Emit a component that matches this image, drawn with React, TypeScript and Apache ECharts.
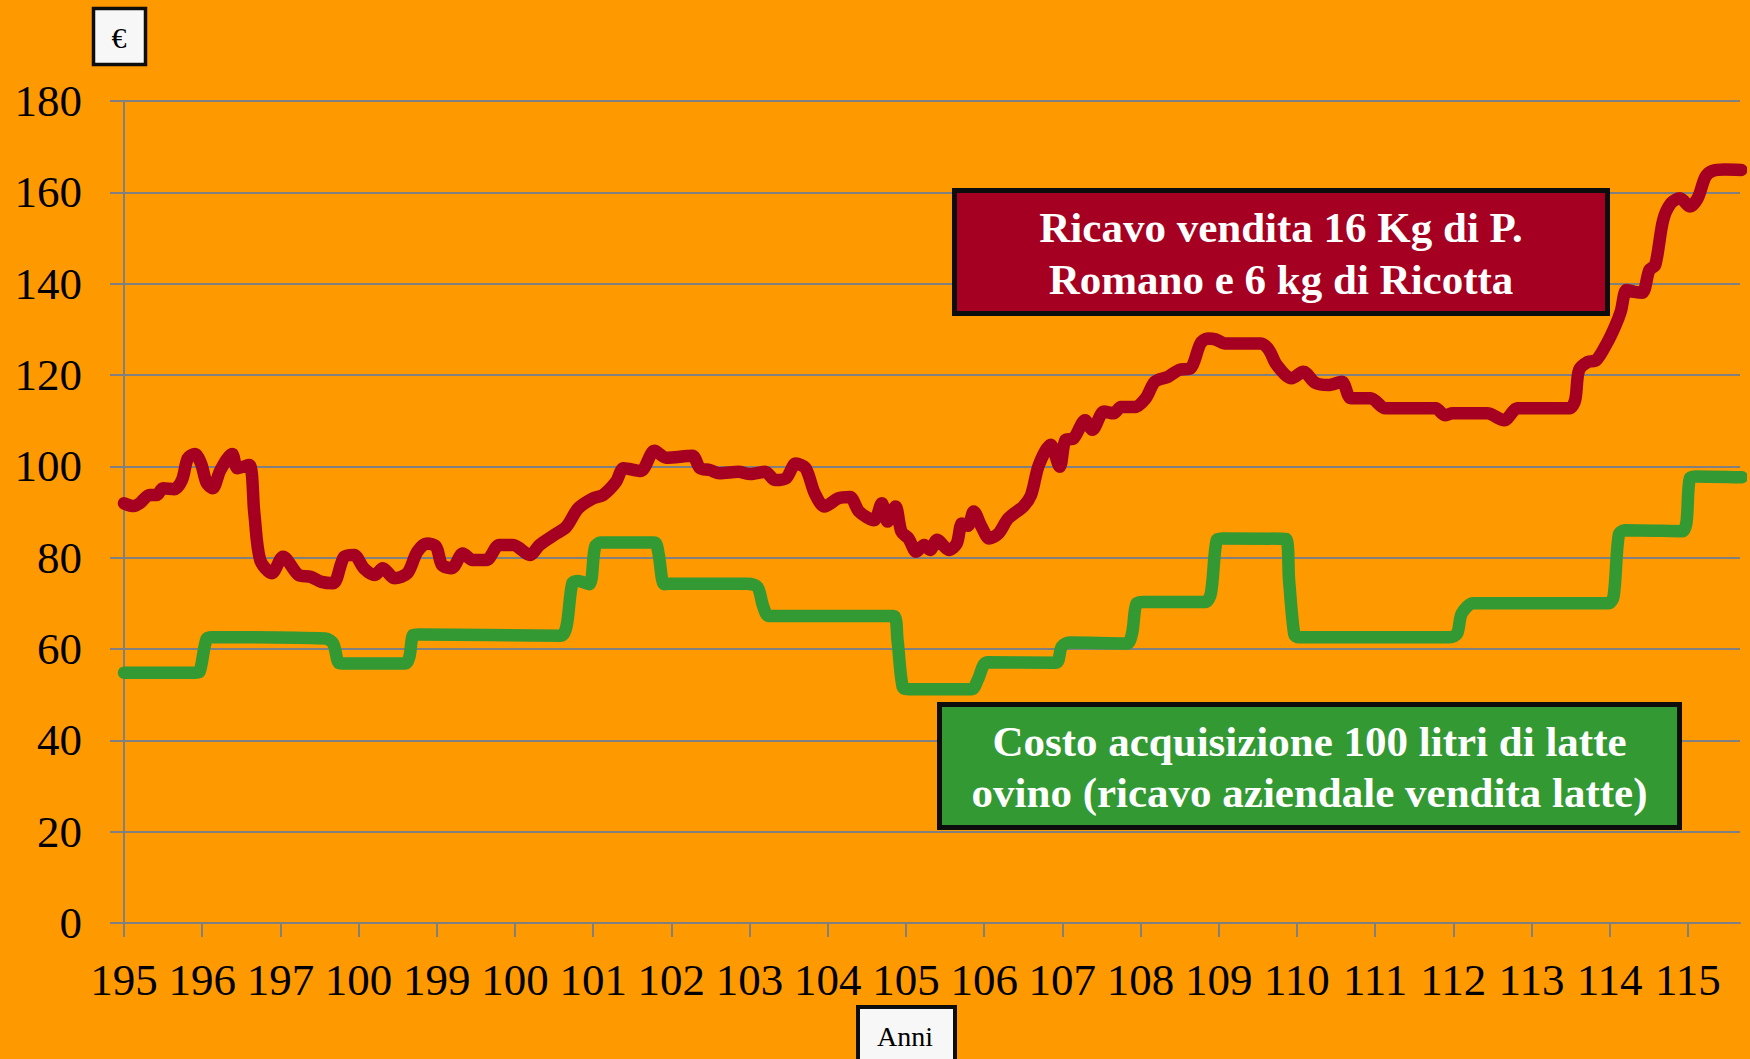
import React, { useEffect, useRef } from 'react';
import * as echarts from 'echarts';

// ---- data ----
const xLabels = ['195', '196', '197', '100', '199', '100', '101', '102', '103', '104', '105', '106', '107', '108', '109', '110', '111', '112', '113', '114', '115'];
const monthsPerLabel = 12;
const xMax = 248;
const yMin = 0;
const yMax = 180;
const yStep = 20;

const yUnit = '€';
const xTitle = 'Anni';
const redTitle = 'Ricavo vendita 16 Kg di P.\nRomano e 6 kg di Ricotta';
const greenTitle = 'Costo acquisizione 100 litri di latte\novino (ricavo aziendale vendita latte)';

const redMonths = [0, 1.5, 2.5, 3.9, 5, 6, 7.7, 8.9, 9.8, 10.9, 11.8, 12.7, 13.6, 14.8, 16.6, 17.4, 19.2, 20.0, 20.9, 22.7, 24.4, 26.8, 28.6, 30.3, 32.1, 33.8, 35.3, 36.8, 38.5, 39.7, 41.5, 43.5, 45, 46.5, 47.9, 48.8, 50.3, 52, 53.5, 55.6, 57.6, 59.7, 62.3, 63.8, 66.4, 67.9, 69.7, 72, 73.5, 75.5, 76.7, 79.3, 81.4, 83.2, 87.2, 88.4, 89.9, 91.4, 94.3, 96.1, 98.4, 99.9, 101.6, 103.1, 104.6, 106, 107.5, 109.6, 111.4, 112.8, 115.1, 116.3, 117.2, 118.4, 119.3, 120.4, 121.6, 122.8, 123.7, 124.8, 126.6, 127.8, 128.6, 129.5, 130.4, 131.6, 132.8, 134.2, 135.7, 138, 139.2, 140.4, 142.2, 143.6, 144.5, 145.7, 147.5, 148.6, 150.4, 151.9, 153, 155.1, 156.8, 158.2, 160.2, 161.9, 163.7, 165.2, 166.3, 167.5, 169, 174.5, 175.7, 176.9, 179.2, 181, 182.8, 184.8, 186.9, 188.3, 191.3, 193.6, 198.6, 201.3, 202.7, 203.9, 209.2, 211.8, 213.9, 221.8, 222.7, 223.3, 224.7, 225.9, 227.7, 228.9, 229.7, 230.6, 231.8, 233, 234.1, 235, 236.2, 237.4, 238.8, 240.3, 241.5, 242.7, 243.8, 245.6, 248.2];
const redValues = [91.9, 91.3, 92, 93.7, 93.7, 95.2, 95, 97, 101.8, 102.7, 100.7, 96.3, 95.2, 99.2, 102.7, 99.6, 100.3, 89.7, 79.5, 76.6, 80.2, 76.2, 75.8, 74.7, 74.4, 80.2, 80.6, 77.7, 76.2, 77.7, 75.5, 76.6, 81.3, 83.1, 82.4, 78.4, 77.7, 80.9, 79.5, 79.5, 82.8, 82.8, 80.6, 82.8, 85.3, 86.8, 90.8, 93, 93.7, 96.6, 99.6, 99, 103.4, 101.9, 102.3, 99.6, 99.2, 98.5, 98.8, 98.3, 98.8, 97, 97.4, 100.6, 99.6, 94.1, 91.2, 93, 93.3, 90.1, 88.2, 91.9, 87.9, 91.2, 85.7, 84.2, 81.3, 82.8, 81.7, 83.9, 81.7, 83.1, 87.5, 87.0, 90.1, 86.8, 84.2, 85.3, 88.6, 91.2, 93.7, 100.3, 104.7, 99.9, 105.8, 106.1, 110.1, 108, 112, 111.6, 113, 113, 114.9, 118.5, 119.6, 121.1, 121.5, 126.9, 128, 127.8, 126.9, 126.9, 125.5, 122.2, 119.3, 120.7, 118.3, 117.8, 118.5, 114.9, 114.9, 112.7, 112.7, 112.7, 111.2, 111.6, 111.6, 110.1, 112.7, 112.7, 114.5, 121.1, 122.9, 123.2, 127.3, 130.9, 133.9, 138.6, 138.2, 138.0, 143, 144.1, 153.9, 157.6, 158.7, 156.9, 158.7, 163.4, 164.7, 165, 164.9];

const greenMonths = [0, 11, 11.6, 12.7, 13.6, 30.9, 32.1, 33, 33.9, 43.2, 43.8, 44.4, 45.3, 67, 67.9, 68.8, 69.7, 71.4, 72.3, 73.2, 81.4, 82, 82.9, 83.8, 95.5, 97.2, 98.1, 99, 118.1, 118.7, 119.5, 120.4, 130.1, 131, 132.5, 143, 143.9, 145.1, 153.9, 154.7, 155.4, 156.5, 165.9, 166.8, 167.7, 168.6, 178.3, 178.8, 179.6, 180.2, 203.5, 204.6, 205.3, 207.1, 227.8, 228.6, 229.4, 230.3, 239.1, 240.3, 241.2, 248.3];
const greenValues = [54.8, 54.8, 55, 62.3, 62.6, 62.3, 61.2, 56.9, 56.8, 56.8, 58.3, 63.1, 63.2, 62.9, 64.9, 74.4, 74.9, 74.2, 82.4, 83.3, 83.3, 81.1, 74.2, 74.3, 74.3, 73.6, 69.3, 67.2, 67.2, 62, 51.7, 51.2, 51.2, 53.2, 57.1, 57, 60.5, 61.4, 61.2, 63.4, 70, 70.3, 70.3, 72.2, 83.9, 84.2, 84.1, 75, 63.2, 62.6, 62.6, 63.4, 67.8, 70, 70, 71.5, 85, 86, 85.8, 97.4, 97.8, 97.6];

const SERIF = '"Liberation Serif", "Times New Roman", serif';
const BG = '#FF9900';
const RED = '#A50021';
const GREEN = '#339933';
const GRID = '#808080';

export default function App() {
  const ref = useRef<HTMLDivElement>(null);

  useEffect(() => {
    if (!ref.current) return;
    const chart = echarts.init(ref.current, undefined, { renderer: 'svg' });
    const tickValues = xLabels.map((_, i) => i * monthsPerLabel);
    const redData = redMonths.map((m, i) => [m, redValues[i]]);
    const greenData = greenMonths.map((m, i) => [m, greenValues[i]]);

    chart.setOption({
      animation: false,
      backgroundColor: BG,
      grid: { left: 124, right: 10, top: 101, bottom: 136, containLabel: false },
      xAxis: {
        type: 'value',
        min: 0,
        max: xMax,
        interval: monthsPerLabel,
        axisLine: { show: true, lineStyle: { color: GRID, width: 2 } },
        axisTick: { show: true, length: 14, lineStyle: { color: GRID, width: 2 }, customValues: tickValues },
        axisLabel: {
          customValues: tickValues,
          margin: 34,
          fontSize: 45,
          fontFamily: SERIF,
          color: '#000',
          formatter: (v: number) => (v % monthsPerLabel === 0 ? xLabels[Math.round(v / monthsPerLabel)] ?? '' : ''),
        },
        splitLine: { show: false },
      },
      yAxis: {
        type: 'value',
        min: yMin,
        max: yMax,
        interval: yStep,
        axisLine: { show: true, lineStyle: { color: GRID, width: 2 } },
        axisTick: { show: true, length: 14, lineStyle: { color: GRID, width: 2 } },
        axisLabel: { margin: 42, fontSize: 45, fontFamily: SERIF, color: '#000' },
        splitLine: { show: true, lineStyle: { color: GRID, width: 2 } },
      },
      series: [
        {
          type: 'line',
          data: greenData,
          showSymbol: false,
          symbol: 'none',
          smooth: 0.3,
          lineStyle: { color: GREEN, width: 12.5, cap: 'round', join: 'round' },
          z: 3,
        },
        {
          type: 'line',
          data: redData,
          showSymbol: false,
          symbol: 'none',
          smooth: 0.3,
          lineStyle: { color: RED, width: 12.5, cap: 'round', join: 'round' },
          z: 4,
        },
      ],
      graphic: [
        {
          type: 'rect',
          z: 100,
          shape: { x: 93.5, y: 8.5, width: 52, height: 56 },
          style: { fill: '#F7F7F7', stroke: '#0D0D0D', lineWidth: 3.5 },
        },
        {
          type: 'text',
          z: 101,
          x: 119,
          y: 37,
          style: { text: yUnit, font: `30px ${SERIF}`, fill: '#000', textAlign: 'center', textVerticalAlign: 'middle', align: 'center', verticalAlign: 'middle' },
        },
        {
          type: 'rect',
          z: 100,
          shape: { x: 858, y: 1007, width: 97, height: 70 },
          style: { fill: '#F7F7F7', stroke: '#0D0D0D', lineWidth: 4 },
        },
        {
          type: 'text',
          z: 101,
          x: 905,
          y: 1036,
          style: { text: xTitle, font: `28px ${SERIF}`, fill: '#000', textAlign: 'center', textVerticalAlign: 'middle', align: 'center', verticalAlign: 'middle' },
        },
        {
          type: 'rect',
          z: 100,
          shape: { x: 954.5, y: 190.5, width: 653, height: 123 },
          style: { fill: RED, stroke: '#0D0D0D', lineWidth: 5 },
        },
        {
          type: 'text',
          z: 101,
          x: 1281,
          y: 253,
          style: { text: redTitle, font: `bold 43px ${SERIF}`, lineHeight: 52, fill: '#FFFFFF', textAlign: 'center', textVerticalAlign: 'middle', align: 'center', verticalAlign: 'middle' },
        },
        {
          type: 'rect',
          z: 100,
          shape: { x: 939.5, y: 704.5, width: 740, height: 123 },
          style: { fill: GREEN, stroke: '#0D0D0D', lineWidth: 5 },
        },
        {
          type: 'text',
          z: 101,
          x: 1309.5,
          y: 767,
          style: { text: greenTitle, font: `bold 43px ${SERIF}`, lineHeight: 51, fill: '#FFFFFF', textAlign: 'center', textVerticalAlign: 'middle', align: 'center', verticalAlign: 'middle' },
        },
      ],
    });

    return () => chart.dispose();
  }, []);

  return <div ref={ref} style={{ position: 'fixed', left: 0, top: 0, width: 1750, height: 1059 }} />;
}
